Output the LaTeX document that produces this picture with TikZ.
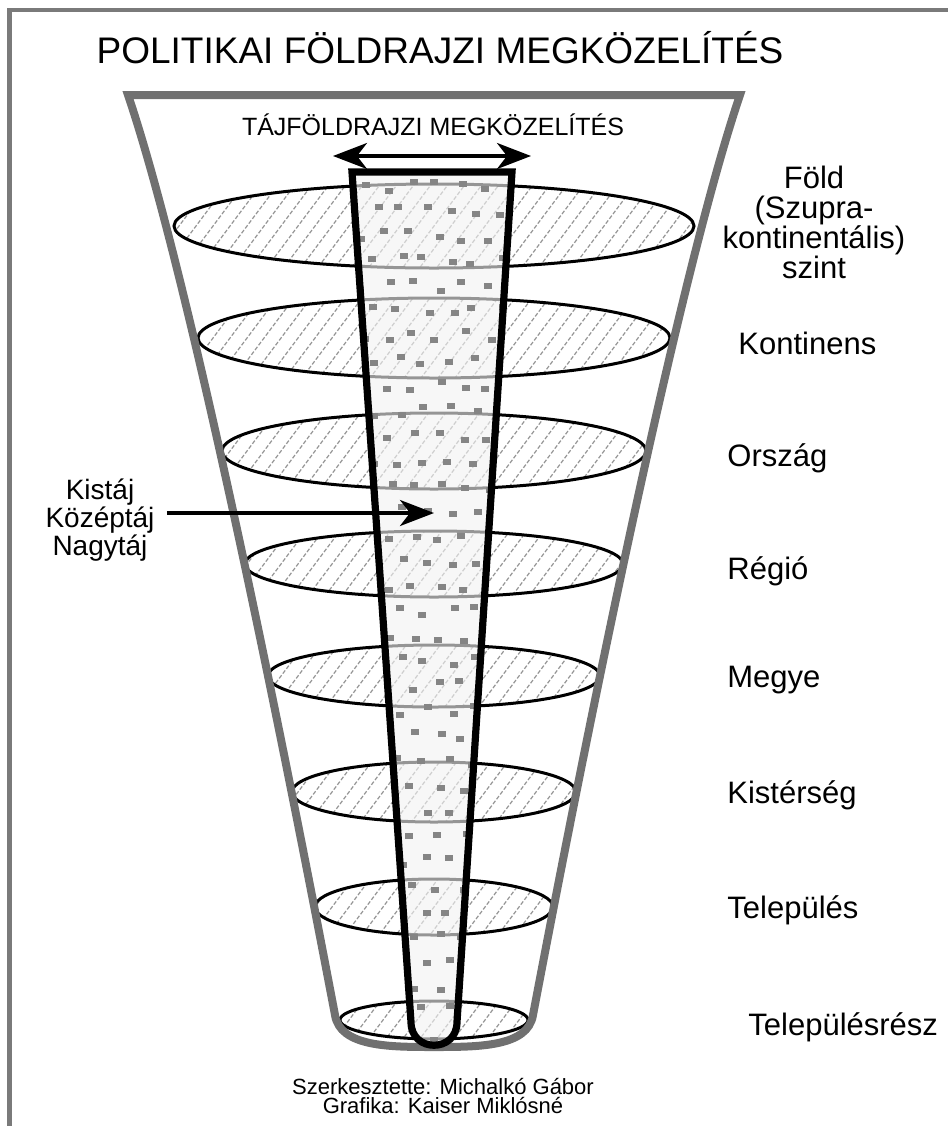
\documentclass[tikz,border=0pt]{standalone}
\usepackage{fontspec}
\setmainfont{Liberation Sans}
\usetikzlibrary{arrows.meta}

\begin{document}
\begin{tikzpicture}[x=0.5pt,y=-0.5pt,
  funnel/.style={draw=black!56,line width=4pt,line join=miter},
  tier/.style={draw=black,line width=1.5pt},
  hatchline/.style={draw=black!42,line width=0.6pt,dash pattern=on 2pt off 1pt},
  colfill/.style={fill=black!5,fill opacity=0.62},
  colline/.style={draw=black,line width=3.6pt,line join=miter},
  speck/.style={fill=black!48},
  arr/.style={line width=1.75pt,-{Stealth[length=17pt,width=13pt,inset=5pt]}},
  twoway/.style={line width=1.75pt,{Stealth[length=17pt,width=13pt,inset=5pt]}-{Stealth[length=17pt,width=13pt,inset=5pt]}},
  tiername/.style={font=\fontsize{15.5}{15}\selectfont,inner sep=0pt,anchor=base west},
]
\useasboundingbox (0,0) rectangle (948,1126);
% frame
\draw[black!52,line width=2.2pt] (9.5,1126) -- (9.5,10) -- (948,10);

% levels
\foreach \cy/\rx/\ry in {226/260/42,338/236/40,451/212/38,564/189/33,676/166/31,792/142/30,907/119/28,1020/94/19}{
  \begin{scope}
    \clip (434,\cy) ellipse [x radius=\rx, y radius=\ry];
    \foreach \k in {-19,...,19}
      \draw[hatchline] (434+\k*17-45,\cy+60) -- (434+\k*17+45,\cy-60);
  \end{scope}
  \draw[tier] (434,\cy) ellipse [x radius=\rx, y radius=\ry];
}

% funnel
\draw[funnel] (128,95) .. controls (179,245) and (259,615) .. (335,1015)
  .. controls (340,1047) and (390,1047) .. (434,1047)
  .. controls (478,1047) and (528,1047) .. (533,1015)
  .. controls (609,615) and (689,245) .. (740,95) -- cycle;

% landscape column
\def\colpath{(352,172) -- (512,172) -- (457,1022) .. controls (457,1053) and (411,1053) .. (411,1022) -- cycle}
\fill[colfill] \colpath;
\pgfmathsetseed{17}
\begin{scope}
  \clip \colpath;
  \foreach \r in {0,...,34}{\foreach \c in {0,...,6}{
    \pgfmathsetmacro\dx{354+\c*25+mod(\r,2)*12+rnd*10}
    \pgfmathsetmacro\dy{178+\r*25+rnd*10}
    \fill[speck] (\dx,\dy) rectangle ++(8,6);}}
\end{scope}
\draw[colline] \colpath;

% labels
\node[font=\fontsize{18.5}{20}\selectfont,anchor=base] (title) at (440,63) {POLITIKAI FÖLDRAJZI MEGKÖZELÍTÉS};
\node[font=\fontsize{12.5}{14}\selectfont,anchor=base] (approach) at (433,135) {TÁJFÖLDRAJZI MEGKÖZELÍTÉS};
\coordinate (wl) at (333,156);
\coordinate (wr) at (531,156);
\draw[twoway] (wl) -- (wr);

\node[font=\fontsize{14}{14}\selectfont,align=center,inner sep=0pt] (taj) at (100,520) {Kistáj\\Középtáj\\Nagytáj};
\coordinate (tajtip) at (434,513);
\draw[arr,shorten <=6pt] (taj.east |- tajtip) -- (tajtip);

\node[tiername,anchor=center,align=center] (fold) at (814,222) {Föld\\(Szupra-\\kontinentális)\\szint};
\foreach \t/\x/\y [count=\i] in {Kontinens/738/354,Ország/727/466,Régió/727/579,Megye/727/687,Kistérség/727/803,Település/727/918,Településrész/748/1035}
  \node[tiername] (tier\i) at (\x,\y) {\t};

\node[font=\fontsize{11}{9.5}\selectfont,align=center] (credit) at (443,1096) {Szerkesztette: Michalkó Gábor\\Grafika: Kaiser Miklósné};
\end{tikzpicture}
\end{document}
